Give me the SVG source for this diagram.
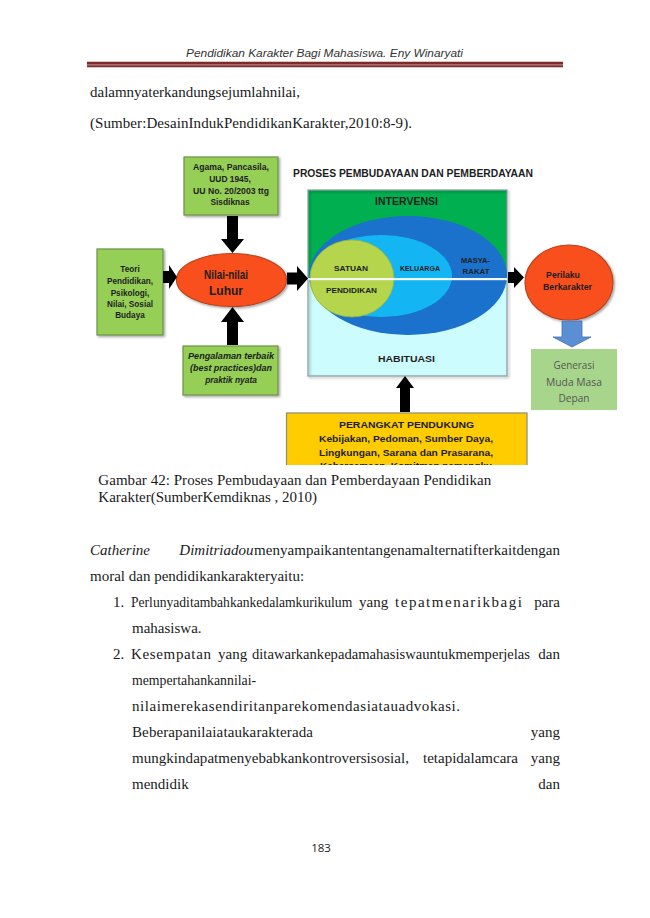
<svg xmlns="http://www.w3.org/2000/svg" width="650" height="918" viewBox="0 0 650 918">
<defs>
<style>
.body{font-family:"Liberation Serif","Times New Roman",serif;font-size:15px;fill:#1a1a1a}
.it{font-style:italic}
.dg{font-family:"Liberation Sans",Arial,sans-serif;font-weight:bold;fill:#1e1e1e;text-anchor:middle}
.gbox{fill:#95cf57;stroke:#6f8f4a;stroke-width:1.2}
.arrow{fill:#000}
.oval{fill:#f9501c;stroke:#b8431f;stroke-width:1.2}
.end{text-anchor:end}
</style>
<filter id="sh" x="-10%" y="-10%" width="130%" height="130%">
<feDropShadow dx="1.5" dy="1.5" stdDeviation="1" flood-color="#000" flood-opacity="0.35"/>
</filter>
<clipPath id="clipY"><rect x="280" y="405" width="260" height="60"/></clipPath>
</defs>
<rect width="650" height="918" fill="#fff"/>

<!-- header -->
<text x="324.5" y="57" text-anchor="middle" font-family="Liberation Sans,Arial,sans-serif" font-style="italic" font-size="11" fill="#333" textLength="277" lengthAdjust="spacingAndGlyphs">Pendidikan Karakter Bagi Mahasiswa. Eny Winaryati</text>
<rect x="87" y="61.8" width="476" height="5.4" fill="#c49a9a"/>
<rect x="87" y="61.8" width="476" height="2.6" fill="#7e2a2a"/>
<rect x="87" y="65.4" width="476" height="1.8" fill="#7e2a2a"/>

<text class="body" x="90" y="97" textLength="210" lengthAdjust="spacing">dalamnyaterkandungsejumlahnilai,</text>
<text class="body" x="90" y="128" textLength="322" lengthAdjust="spacing">(Sumber:DesainIndukPendidikanKarakter,2010:8-9).</text>

<!-- diagram -->
<g id="title">
<text class="dg" x="413" y="177" font-size="10.5" fill="#333" textLength="240" lengthAdjust="spacingAndGlyphs">PROSES PEMBUDAYAAN DAN PEMBERDAYAAN</text>
</g>

<g id="node-agama">
<rect class="gbox" x="184" y="157" width="94" height="58" filter="url(#sh)"/>
<text class="dg" font-size="8.4" x="231" y="170" textLength="76" lengthAdjust="spacingAndGlyphs">Agama, Pancasila,</text>
<text class="dg" font-size="8.4" x="230" y="181.5">UUD 1945,</text>
<text class="dg" font-size="8.4" x="231" y="193.5" textLength="76" lengthAdjust="spacingAndGlyphs">UU No. 20/2003 ttg</text>
<text class="dg" font-size="8.4" x="230" y="205">Sisdiknas</text>
</g>

<g id="node-teori">
<rect class="gbox" x="97" y="249" width="66" height="86" filter="url(#sh)"/>
<text class="dg" font-size="8.2" x="130" y="272">Teori</text>
<text class="dg" font-size="8.2" x="130" y="284" textLength="46" lengthAdjust="spacingAndGlyphs">Pendidikan,</text>
<text class="dg" font-size="8.2" x="130" y="295.5">Psikologi,</text>
<text class="dg" font-size="8.2" x="130" y="307" textLength="46" lengthAdjust="spacingAndGlyphs">Nilai, Sosial</text>
<text class="dg" font-size="8.2" x="130" y="318">Budaya</text>
</g>

<g id="node-nilai">
<ellipse class="oval" cx="231.5" cy="280" rx="55" ry="26.5" filter="url(#sh)"/>
<text class="dg" font-size="12" x="226" y="278.5" fill="#3a1408" textLength="44" lengthAdjust="spacingAndGlyphs">Nilai-nilai</text>
<text class="dg" font-size="12" x="226" y="294.5" fill="#3a1408">Luhur</text>
</g>

<g id="node-pengalaman">
<rect class="gbox" x="183" y="346" width="95" height="49" filter="url(#sh)"/>
<text class="dg it" font-size="8.4" x="231" y="358.5" textLength="86" lengthAdjust="spacingAndGlyphs">Pengalaman terbaik</text>
<text class="dg it" font-size="8.4" x="231" y="370.5" textLength="82" lengthAdjust="spacingAndGlyphs">(best practices)dan</text>
<text class="dg it" font-size="8.4" x="231" y="382.5">praktik nyata</text>
</g>

<g id="node-proses">
<rect x="308" y="190" width="199" height="89" fill="#00b050"/>
<rect x="308" y="279" width="199" height="97" fill="#ccfcfd"/>
<rect x="308" y="190" width="199" height="186" fill="none" stroke="#8a9a9a" stroke-width="1.2" filter="url(#sh)"/>
<text class="dg" font-size="10" x="406.5" y="204.5" fill="#1a2a1a" textLength="63" lengthAdjust="spacingAndGlyphs">INTERVENSI</text>
<ellipse cx="408" cy="275.5" rx="99" ry="59.5" fill="#1a72cc"/>
<ellipse cx="381" cy="276" rx="71" ry="41" fill="#13b6f2"/>
<ellipse cx="352" cy="278.5" rx="42" ry="38.5" fill="#b4d54c" stroke="#9ab83a" stroke-width="0.8"/>
<rect x="308" y="278" width="199" height="2.2" fill="#f4f8fb"/>
<text class="dg" font-size="8" x="351" y="271" fill="#2e3a12" textLength="34" lengthAdjust="spacingAndGlyphs">SATUAN</text>
<text class="dg" font-size="8" x="351.5" y="293" fill="#2e3a12" textLength="51" lengthAdjust="spacingAndGlyphs">PENDIDIKAN</text>
<text class="dg" font-size="7.5" x="420" y="271" fill="#0d3c78" textLength="40" lengthAdjust="spacingAndGlyphs">KELUARGA</text>
<text class="dg" font-size="8" x="475.5" y="263" fill="#ffffff" textLength="29" lengthAdjust="spacingAndGlyphs">MASYA-</text>
<text class="dg" font-size="8" x="476" y="274" fill="#ffffff" textLength="27" lengthAdjust="spacingAndGlyphs">RAKAT</text>
<text class="dg" font-size="9.5" x="406.5" y="361.5" fill="#333" textLength="57" lengthAdjust="spacingAndGlyphs">HABITUASI</text>
</g>

<g id="node-perilaku">
<ellipse class="oval" cx="569" cy="282.5" rx="44" ry="37.5" filter="url(#sh)"/>
<text class="dg" font-size="8.7" x="563" y="278" fill="#3a1408">Perilaku</text>
<text class="dg" font-size="8.7" x="567.5" y="290" fill="#3a1408" textLength="49" lengthAdjust="spacingAndGlyphs">Berkarakter</text>
</g>

<g id="node-generasi">
<rect x="531" y="349" width="86" height="61" fill="#a8d58c"/>
<text x="574" y="369" text-anchor="middle" font-family="Open Sans,Liberation Sans,sans-serif" font-size="10.5" fill="#555" textLength="41" lengthAdjust="spacingAndGlyphs">Generasi</text>
<text x="574" y="385.5" text-anchor="middle" font-family="Open Sans,Liberation Sans,sans-serif" font-size="10.5" fill="#555" textLength="56" lengthAdjust="spacingAndGlyphs">Muda Masa</text>
<text x="574" y="402" text-anchor="middle" font-family="Open Sans,Liberation Sans,sans-serif" font-size="10.5" fill="#555" textLength="31" lengthAdjust="spacingAndGlyphs">Depan</text>
</g>

<g id="node-perangkat">
<g clip-path="url(#clipY)">
<rect x="286.5" y="413" width="240.5" height="70" fill="#ffcc00" stroke="#8c8c70" stroke-width="1.2"/>
<text class="dg" font-size="9.8" x="406.5" y="427.5" fill="#1a1a00" textLength="135" lengthAdjust="spacingAndGlyphs">PERANGKAT PENDUKUNG</text>
<text class="dg" font-size="9.8" x="406" y="442" fill="#1a1a00" textLength="174" lengthAdjust="spacingAndGlyphs">Kebijakan, Pedoman, Sumber Daya,</text>
<text class="dg" font-size="9.8" x="406" y="455.5" fill="#1a1a00" textLength="174" lengthAdjust="spacingAndGlyphs">Lingkungan, Sarana dan Prasarana,</text>
<text class="dg" font-size="9.8" x="406" y="469" fill="#1a1a00" textLength="172" lengthAdjust="spacingAndGlyphs">Kebersamaan, Komitmen pemangku</text>
</g>
</g>

<g id="connectors">
<polygon class="arrow" points="227,216 238,216 238,239 244,239 232.5,253 221,239 227,239"/>
<polygon class="arrow" points="232.5,307 244,322 238,322 238,345 227,345 227,322 221,322"/>
<polygon class="arrow" points="163,271 169,271 169,265 177,277 169,289 169,283 163,283"/>
<polygon class="arrow" points="287,272.5 297,272.5 297,266 308,278.5 297,291 297,284.5 287,284.5"/>
<polygon class="arrow" points="508,272 514,272 514,267 524,277.5 514,288 514,283 508,283"/>
<polygon class="arrow" points="405,376 414,388 410,388 410,412 400,412 400,388 396,388"/>
<polygon points="562,321 582,321 582,337 591,337 572,347 553,337 562,337" fill="#5b8fd4" stroke="#4670aa" stroke-width="0.8"/>
</g>

<!-- caption -->
<text class="body" x="98.3" y="485" textLength="393" lengthAdjust="spacing">Gambar 42: Proses Pembudayaan dan Pemberdayaan Pendidikan</text>
<text class="body" x="98.3" y="502">Karakter(SumberKemdiknas , 2010)</text>

<!-- body text -->
<text class="body it" x="90" y="555">Catherine</text>
<text class="body it" x="179.3" y="555">Dimitriadou</text>
<text class="body" x="254" y="555" textLength="306" lengthAdjust="spacing">menyampaikantentangenamalternatifterkaitdengan</text>
<text class="body" x="90" y="581">moral dan pendidikankarakteryaitu:</text>

<text class="body" x="113" y="607">1.</text>
<text class="body" x="131" y="607" style="font-size:13.6px">Perlunyaditambahkankedalamkurikulum</text>
<text class="body" x="359" y="607">yang</text>
<text class="body" x="395" y="607" textLength="127" lengthAdjust="spacing">tepatmenarikbagi</text>
<text class="body end" x="560" y="607">para</text>
<text class="body" x="132" y="633">mahasiswa.</text>

<text class="body" x="113" y="659">2.</text>
<text class="body" x="131" y="659" textLength="80" lengthAdjust="spacing">Kesempatan</text>
<text class="body" x="218" y="659">yang</text>
<text class="body" x="252" y="659" style="font-size:14.6px">ditawarkankepadamahasiswauntukmemperjelas</text>
<text class="body end" x="560" y="659">dan</text>
<text class="body" x="132" y="685" style="font-size:13.8px">mempertahankannilai-</text>
<text class="body" x="132" y="711" textLength="328" lengthAdjust="spacing">nilaimerekasendiritanparekomendasiatauadvokasi.</text>
<text class="body" x="132" y="737" textLength="181" lengthAdjust="spacing">Beberapanilaiataukarakterada</text>
<text class="body end" x="560" y="737">yang</text>
<text class="body" x="132" y="763" textLength="277" lengthAdjust="spacing">mungkindapatmenyebabkankontroversisosial,</text>
<text class="body" x="423" y="763">tetapidalamcara</text>
<text class="body end" x="560" y="763">yang</text>
<text class="body" x="132" y="789">mendidik</text>
<text class="body end" x="560" y="789">dan</text>

<text x="321" y="852" text-anchor="middle" font-family="Open Sans,Liberation Sans,sans-serif" font-size="11.5" fill="#222">183</text>
</svg>
